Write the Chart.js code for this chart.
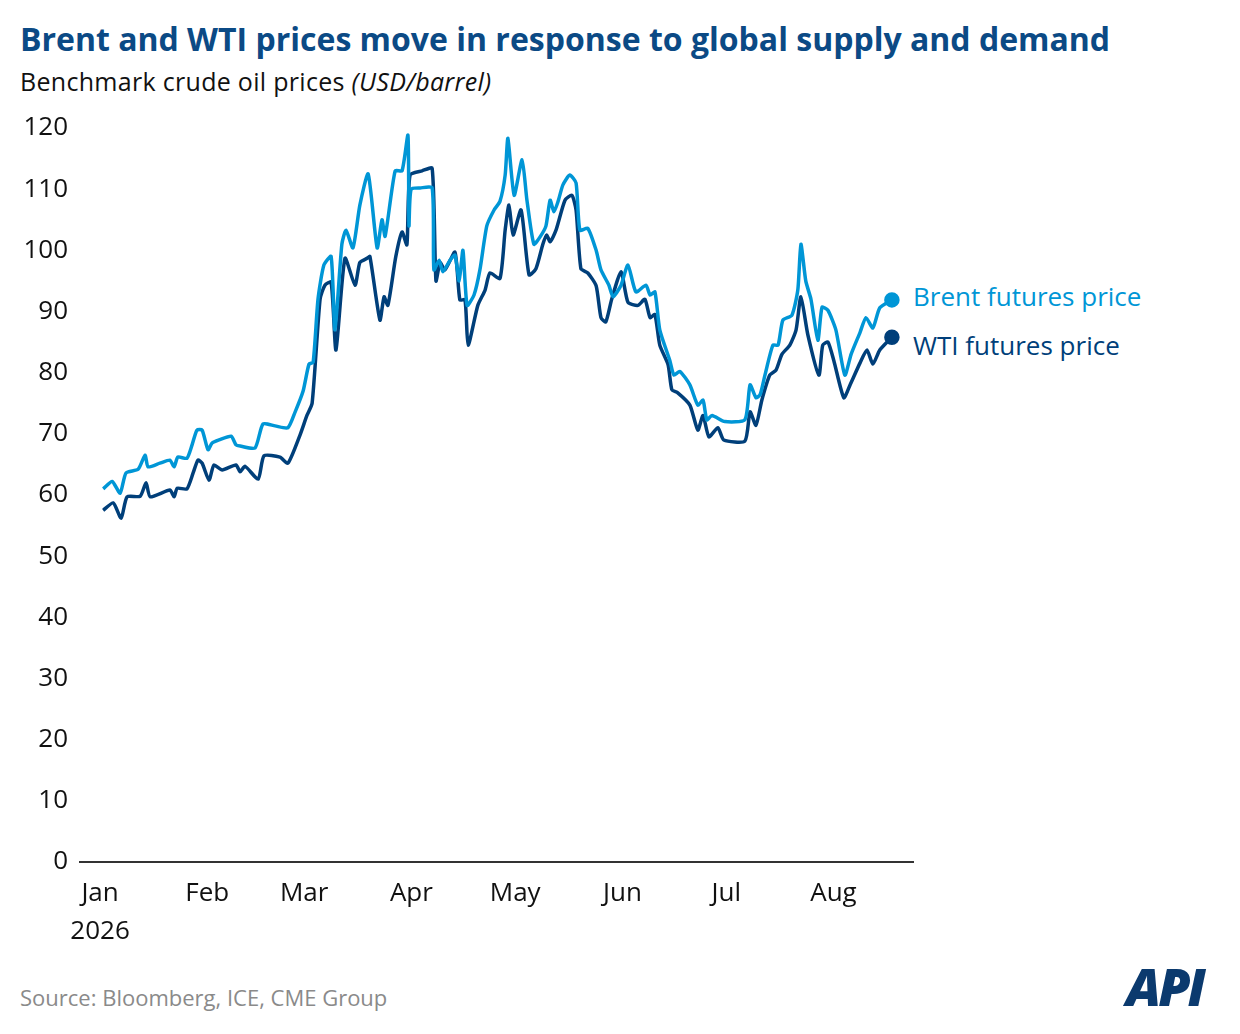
<!DOCTYPE html>
<html><head><meta charset="utf-8">
<script src="https://cdn.jsdelivr.net/npm/chart.js@4"></script>
<style>
body{margin:0;width:1240px;height:1034px;background:#fff;font-family:"Open Sans",sans-serif;position:relative;overflow:hidden}
.t{position:absolute;white-space:nowrap}
#wrap{position:absolute;left:0;top:0;width:1240px;height:1034px}
</style></head><body>
<div class="t" style="left:20px;top:17px;font-size:32px;font-weight:bold;color:#0b4a85">Brent and WTI prices move in response to global supply and demand</div>
<div class="t" style="left:20px;top:64px;font-size:25px;color:#111;letter-spacing:0.3px">Benchmark crude oil prices <i>(USD/barrel)</i></div>
<div class="t" style="left:913px;top:278px;font-size:26px;color:#0096d6">Brent futures price</div>
<div class="t" style="left:913px;top:327px;font-size:26px;color:#003f7a">WTI futures price</div>
<div class="t" style="left:20px;top:982px;font-size:22px;color:#8a8a8a">Source: Bloomberg, ICE, CME Group</div>
<div class="t" style="left:1126px;top:950px;font-size:52px;font-weight:900;font-style:italic;color:#0b3a6e;letter-spacing:-3px">API</div>
<div id="wrap"><canvas id="c"></canvas></div>
<script>
// days since Jan 1 2026
const monthStarts = [0, 31, 59, 90, 120, 151, 181, 212];
const monthLabels = [['Jan', '2026'], 'Feb', 'Mar', 'Apr', 'May', 'Jun', 'Jul', 'Aug'];

const brentDays = [0.9,3.5,5.8,7.5,11,13,13.9,17.3,20.2,21.4,22.5,25.1,26.6,28,29.5,31.2,32.4,34.4,37.9,39.3,40.5,44.8,47.1,50.6,54.3,56.4,58.7,60.4,61.6,63,64.7,66.8,67.9,69.9,71.1,73.1,75.1,77.5,80.1,81.5,82.4,85.3,87.3,89,89.3,89.9,92.5,96,96.5,98,99.1,101.2,102.6,103.8,104.9,106.1,108.1,109.8,111.8,113.9,115.6,117.1,117.9,119.7,122,123.4,125.4,127.2,128.9,130.1,131.2,132.4,133.8,135.8,137.6,138.7,141,143.4,144.8,147.1,148.3,150.6,152.6,154.9,157.8,159,160.4,161.8,164.7,165.9,167.6,170.5,172.8,174.3,175.4,176.9,180.6,186.4,187.9,189.6,190.8,192.2,194.5,196,197.4,200,201.7,202.6,204,205.5,207.5,208.7,210.4,212.7,215.3,217.1,219.7,221.4,223.4,225.4,228.9];
const brentVals = [61,62.2,60.3,63.6,64.2,66.5,64.6,65.2,65.7,64.6,66.2,66,68.2,70.6,70.6,67.4,68.5,69,69.6,68.2,68,67.7,71.6,71.3,71,73.6,77,81.4,81.7,92,97.6,99,87,101,103.3,100.4,107.4,112.5,100.4,105,102.3,113,113,118.8,104,110,110.2,110.2,96.8,98.4,96.5,98.4,99.2,95,100,91,92.7,96.8,104,106.6,108,112.3,118.3,109,114.8,108.2,101,102.2,104,108.2,106.3,108,110.7,112.3,111,103.3,103.6,100,96.8,94.3,92.4,94.3,97.6,93.2,94.3,92.7,93.2,87,82,79.6,80.2,78,74.7,75.5,72.3,73,72,72.3,78,75.9,76.4,79.6,84.5,84.5,88.6,89.4,93.5,101,95,92,85.3,90.7,90.2,87,79.6,83,86.6,89,87.3,90.6,91.9];

const wtiDays = [0.9,3.8,6.1,7.8,11.6,13.3,14.5,20.2,21.4,22.3,25.1,26.9,28.3,29.5,31.5,32.9,35.3,39.3,40.5,41.9,45.7,47.4,52,54.3,57.8,59.8,61.3,63.6,65,66.8,68.2,70.8,73.7,75.1,77.2,78,80.9,82.1,83.2,85.5,87.3,88.7,89.6,93.1,96,97.1,98.3,99.7,102.6,104,105.5,106.4,109.2,111.3,112.7,115.6,117.1,118.2,119.4,121.7,124,126,128,129.1,130.1,131.8,134.4,136.4,137.6,139.0,141,143.4,144.8,146.2,147.9,150.6,152.6,155.5,157.5,159,160.4,161.8,164.2,165.3,167,170.5,172.8,174.3,176,178.6,180.3,186.4,187.9,189.6,191.3,193.6,195.4,197.1,199.4,201.2,202.6,204.6,207.8,208.9,210.4,212.1,215,216.8,219.7,221.7,223.4,225.4,228.9];
const wtiVals = [57.5,58.7,56.2,59.7,59.8,62,59.7,60.8,59.7,61.1,61,63.6,65.7,65.2,62.4,64.9,64.1,64.9,63.8,64.7,62.6,66.4,66.2,65.2,69.8,73,75,92,94.3,94.8,83.7,98.7,94.3,98,98.7,99,88.6,92.4,91,99,103,100.9,112.3,113,113.4,95,98,96.8,99.7,91.9,91.9,84.5,91,93.5,96.3,95.4,103.3,107.4,102.5,106.6,96,97,101,102.5,101.4,103.3,108.2,109,106.6,97,96.3,94.2,89,88.3,92,96.5,91.5,91,92,89,89.5,84.5,81.3,77.2,76.7,74.7,70.6,73,69.5,71,69,68.8,73.6,71.4,75.5,79.6,80.4,83,84.5,87,92.4,86.2,79.6,84.5,85,82,75.9,78,81.6,83.7,81.4,83.7,85.8];

const toXY = (d, v) => d.map((x, i) => ({x, y: v[i]}));
const lastDot = n => c => c.dataIndex === n - 1 ? 6 : 0;
const tickFont = {size: 26, family: '"Open Sans", sans-serif', lineHeight: 1.45};

new Chart(document.getElementById('c'), {
  type: 'line',
  data: {datasets: [
    {label: 'Brent', data: toXY(brentDays, brentVals), borderColor: '#0096d6', backgroundColor: '#0096d6', borderWidth: 3.5, pointRadius: lastDot(brentDays.length), tension: 0.2},
    {label: 'WTI', data: toXY(wtiDays, wtiVals), borderColor: '#003f7a', backgroundColor: '#003f7a', borderWidth: 3.5, pointRadius: lastDot(wtiDays.length), tension: 0.2}
  ]},
  options: {
    responsive: true, maintainAspectRatio: false, animation: false,
    layout: {padding: {top: 128, left: 0, right: 327, bottom: 0}},
    plugins: {legend: {display: false}, tooltip: {enabled: false}},
    scales: {
      x: {
        type: 'linear', min: -5.8, max: 235,
        afterBuildTicks: s => { s.ticks = monthStarts.map(v => ({value: v})); },
        afterFit: s => { s.height = 172; },
        ticks: {color: '#111', font: tickFont, padding: 13, maxRotation: 0, autoSkip: false,
          callback: v => monthLabels[monthStarts.indexOf(v)]},
        grid: {display: false, drawTicks: false},
        border: {color: '#333', width: 2}
      },
      y: {
        min: 0, max: 120,
        afterFit: s => { s.width = 80; },
        ticks: {stepSize: 10, color: '#111', font: {size: 26, family: '"Open Sans", sans-serif'}, padding: 12},
        grid: {display: false, drawTicks: false},
        border: {display: false}
      }
    }
  }
});
</script>
</body></html>
